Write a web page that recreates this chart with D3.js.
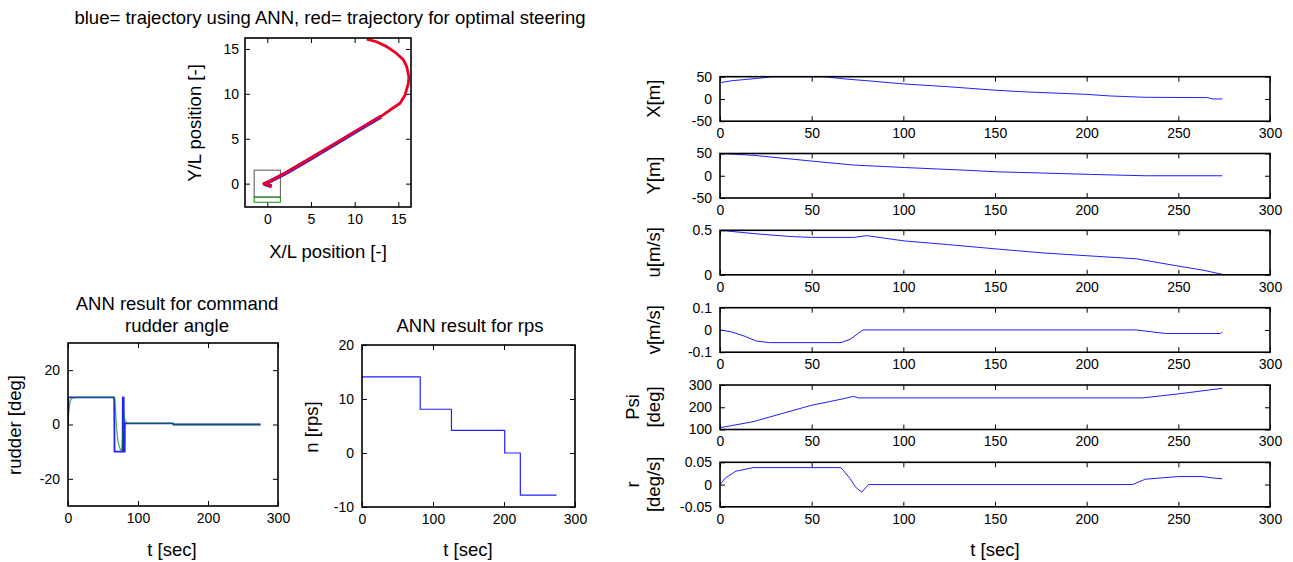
<!DOCTYPE html>
<html>
<head>
<meta charset="utf-8">
<script src="https://cdn.jsdelivr.net/npm/d3@7"></script>
<style>
  html, body { margin: 0; padding: 0; background: #fff; }
  svg { display: block; font-family: "Liberation Sans", Arial, Helvetica, sans-serif; }
  .tick text { font-size: 14px; fill: #000; }
  .domain { display: none; }
  .tick line { stroke: #000; stroke-width: 1; }
</style>
</head>
<body>
<svg id="chart" width="1293" height="562"></svg>
<script>
// ---------------- DATA ----------------
const trajTitle = "blue= trajectory using ANN, red= trajectory for optimal steering";
const trajXTicks = [0, 5, 10, 15];
const trajYTicks = [0, 5, 10, 15];
const redX = [0.5, -0.4, 0.3, 2, 5, 8, 11, 13.1, 14.05, 15.2, 15.77, 16.15, 16.2, 15.96, 15.57, 14.8, 13.67, 12.5, 11.38];
const redY = [-0.3, 0.0, 0.25, 1.15, 2.85, 4.6, 6.35, 7.54, 8.2, 8.95, 9.88, 11.18, 11.9, 13.03, 13.8, 14.5, 15.26, 15.8, 16.1];
const blueX = [0.5, -0.3, 2, 5, 8, 11, 13.0];
const blueY = [-0.3, -0.05, 1.1, 2.8, 4.55, 6.3, 7.45];
const grayBoxX = [-1.5, 1.5];
const grayBoxY = [-1.5, 1.5];
const greenBoxX = [-1.5, 1.5];
const greenBoxY = [-2.07, -1.5];

const timeTicks300 = [0, 100, 200, 300];
const rudderYTicks = [-20, 0, 20];
const cmdT = [0, 0.5, 66, 66.5, 78, 78.3, 79.5, 80, 81, 81.2, 150, 150.5, 275];
const cmdV = [0, 10, 10, -10, -10, 10, 10, -10, -10, 0.4, 0.4, 0, 0];
const actT = [0, 1, 2, 3, 5, 8, 12, 66, 67, 69, 71, 73, 75, 77, 78, 79, 80, 81, 83, 86, 150, 150.5, 275];
const actV = [0, 4.5, 7, 8.5, 9.5, 9.9, 10, 10, 9, 0, -5.5, -8, -9.3, -9.8, -6, 0, 4, 2, 0.8, 0.4, 0.4, 0, 0];

const rpsYTicks = [-10, 0, 10, 20];
const rpsT = [0, 82, 82, 126, 126, 201, 201, 223, 223, 274];
const rpsV = [14.1, 14.1, 8.1, 8.1, 4.2, 4.2, 0, 0, -7.8, -7.8];

const timeTicks50 = [0, 50, 100, 150, 200, 250, 300];
const xmT = [0, 6.4, 20, 29, 57, 68, 80, 100.7, 124, 149, 167, 199.5, 213, 232, 266, 268.5, 274];
const xmV = [36.5, 41, 46, 50, 50, 45, 41, 33.6, 27.6, 20, 15.7, 10.4, 6.7, 3.7, 3, 0, 0];
const ymT = [0, 18, 50, 73, 100.7, 133, 151, 176.6, 202, 232, 274];
const ymV = [50, 46, 33, 24, 18.5, 12.6, 8.9, 6, 3, 0, 0];
const uT = [0, 20, 38.6, 50, 73, 80, 100.7, 124, 151, 176.6, 199.5, 227, 248, 264, 274];
const uV = [0.5, 0.46, 0.43, 0.42, 0.42, 0.44, 0.38, 0.34, 0.29, 0.245, 0.215, 0.18, 0.105, 0.05, 0.005];
const vT = [0, 6.4, 13, 20, 27, 66, 71, 78, 227, 243, 273, 274];
const vV = [0, -0.009, -0.027, -0.05, -0.057, -0.057, -0.042, 0, 0, -0.016, -0.016, -0.009];
const psiT = [0, 18, 50, 66, 73, 75.4, 230.6, 250, 274];
const psiV = [108, 135, 209, 236, 249, 242, 242, 260, 285];
const rT = [0, 3, 8.7, 18, 66, 71, 74, 77.3, 81, 225, 232, 250, 263, 268.5, 274];
const rV = [0, 0.015, 0.03, 0.038, 0.038, 0.013, -0.006, -0.017, 0, 0, 0.012, 0.018, 0.018, 0.015, 0.013];

const rightLabels = [["X[m]"], ["Y[m]"], ["u[m/s]"], ["v[m/s]"], ["Psi", "[deg]"], ["r", "[deg/s]"]];
const rightDomains = [[-50, 50], [-50, 50], [0, 0.5], [-0.1, 0.1], [100, 300], [-0.05, 0.05]];
const rightYTicks = [[-50, 0, 50], [-50, 0, 50], [0, 0.5], [-0.1, 0, 0.1], [100, 200, 300], [-0.05, 0, 0.05]];
const rightT = [xmT, ymT, uT, vT, psiT, rT];
const rightV = [xmV, ymV, uV, vV, psiV, rV];

// ---------------- DRAWING ----------------
const svg = d3.select("#chart");
const BLUE = "#1f1fff";
const GREEN = "#008000";
const LBL = 18.5;
const fmt = d => String(d);

function panel(o) {
  const g = svg.append("g");
  const x = d3.scaleLinear().domain(o.xd).range([o.l, o.r]);
  const y = d3.scaleLinear().domain(o.yd).range([o.b, o.t]);
  g.append("g").attr("transform", `translate(0,${o.b})`)
    .call(d3.axisBottom(x).tickValues(o.xt).tickSize(-5).tickPadding(7).tickFormat(fmt));
  g.append("g").attr("transform", `translate(0,${o.t})`)
    .call(d3.axisTop(x).tickValues(o.xt).tickSize(-5).tickFormat(""));
  g.append("g").attr("transform", `translate(${o.l},0)`)
    .call(d3.axisLeft(y).tickValues(o.yt).tickSize(-5).tickPadding(o.yp || 8).tickFormat(fmt));
  g.append("g").attr("transform", `translate(${o.r},0)`)
    .call(d3.axisRight(y).tickValues(o.yt).tickSize(-5).tickFormat(""));
  const clipId = "clip" + Math.random().toString(36).slice(2);
  svg.append("clipPath").attr("id", clipId).append("rect")
    .attr("x", o.l).attr("y", o.t).attr("width", o.r - o.l).attr("height", o.b - o.t);
  const plot = g.append("g").attr("clip-path", `url(#${clipId})`);
  g.append("rect").attr("x", o.l).attr("y", o.t).attr("width", o.r - o.l).attr("height", o.b - o.t)
    .attr("fill", "none").attr("stroke", "#000").attr("stroke-width", 1.6);
  return { g, x, y, plot };
}

function drawLine(p, xs, ys, color, w, op) {
  const pts = xs.map((d, i) => [d, ys[i]]);
  p.plot.append("path").datum(pts)
    .attr("d", d3.line().x(d => p.x(d[0])).y(d => p.y(d[1])))
    .attr("fill", "none").attr("stroke", color).attr("stroke-width", w)
    .attr("stroke-opacity", op == null ? 1 : op)
    .attr("stroke-linejoin", "round");
}

function label(txt, x, y, size, rotate) {
  svg.append("text").attr("x", x).attr("y", y)
    .attr("transform", rotate ? `rotate(-90,${x},${y})` : null)
    .attr("text-anchor", "middle").attr("font-size", size).attr("fill", "#000").text(txt);
}

// Trajectory
const tr = panel({ l: 245, r: 411, t: 38, b: 207, xd: [-2.55, 16.45], yd: [-2.6, 16.22], xt: trajXTicks, yt: trajYTicks, yp: 6 });
[[grayBoxX, grayBoxY, "#555"], [greenBoxX, greenBoxY, "#1a8a1a"]].forEach(([bx, by, c]) => {
  tr.plot.append("rect")
    .attr("x", tr.x(bx[0])).attr("y", tr.y(by[1]))
    .attr("width", tr.x(bx[1]) - tr.x(bx[0])).attr("height", tr.y(by[0]) - tr.y(by[1]))
    .attr("fill", "none").attr("stroke", c).attr("stroke-width", 1);
});
drawLine(tr, blueX, blueY, BLUE, 3.8);
drawLine(tr, redX, redY, "#ee0022", 2.8);
label(trajTitle, 330, 24, LBL, false);
label("X/L position [-]", 328, 258, LBL, false);
label("Y/L position [-]", 201, 123, LBL, true);

// Rudder
const ru = panel({ l: 68, r: 278, t: 343, b: 506, xd: [0, 300], yd: [-30, 30], xt: timeTicks300, yt: rudderYTicks });
drawLine(ru, cmdT, cmdV, BLUE, 1.8);
drawLine(ru, actT, actV, GREEN, 1.3, 0.65);
label("ANN result for command", 177, 310, LBL, false);
label("rudder angle", 177, 332, LBL, false);
label("rudder [deg]", 21, 425, LBL, true);
label("t [sec]", 172, 556, LBL, false);

// RPS
const rp = panel({ l: 362, r: 575, t: 345, b: 507, xd: [0, 300], yd: [-10, 20], xt: timeTicks300, yt: rpsYTicks });
drawLine(rp, rpsT, rpsV, BLUE, 1.2);
label("ANN result for rps", 470, 332, LBL, false);
label("n [rps]", 318, 427, LBL, true);
label("t [sec]", 468, 556, LBL, false);

// Right panels
const tops = [76.7, 153.5, 230.3, 307.7, 385, 462.3];
tops.forEach((top, i) => {
  const p = panel({ l: 720, r: 1270, t: top, b: top + 44.5, xd: [0, 300], yd: rightDomains[i], xt: timeTicks50, yt: rightYTicks[i] });
  drawLine(p, rightT[i], rightV[i], BLUE, 1);
  const lines = rightLabels[i];
  const cy = top + 22;
  if (lines.length === 1) {
    label(lines[0], 660, cy, LBL, true);
  } else {
    label(lines[0], 639, cy, LBL, true);
    label(lines[1], 660, cy, LBL, true);
  }
});
label("t [sec]", 995, 556, LBL, false);
</script>
</body>
</html>
